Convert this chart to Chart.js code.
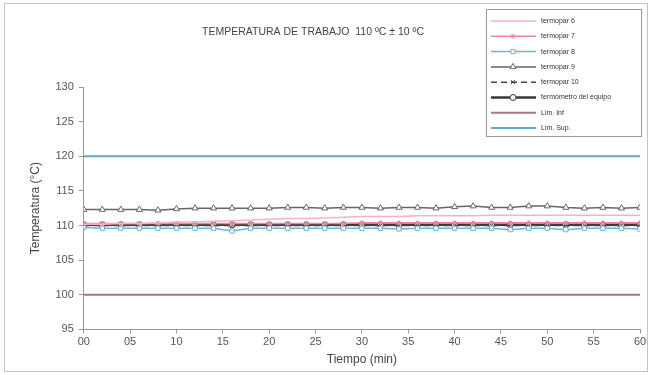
<!DOCTYPE html>
<html>
<head>
<meta charset="utf-8">
<script src="https://cdn.jsdelivr.net/npm/chart.js@4/dist/chart.umd.min.js"></script>
<style>
  html, body { margin: 0; padding: 0; background: #fff; }
  #wrap { width: 652px; height: 375px; position: relative; }
</style>
</head>
<body>
<div id="wrap"><canvas id="chart" width="652" height="375"></canvas></div>
<script>
// tiempo (min), una lectura cada 2 minutos
const tiempos = [0, 2, 4, 6, 8, 10, 12, 14, 16, 18, 20, 22, 24, 26, 28, 30, 32, 34, 36, 38, 40, 42, 44, 46, 48, 50, 52, 54, 56, 58, 60];

const termopar6 = [110.2, 110.2, 110.3, 110.3, 110.4, 110.5, 110.5, 110.6, 110.7, 110.8, 110.9, 111.0, 111.0, 111.1, 111.2, 111.3, 111.3, 111.3, 111.4, 111.4, 111.4, 111.4, 111.5, 111.5, 111.5, 111.5, 111.5, 111.5, 111.5, 111.5, 111.5];
const termopar7 = [110.3, 110.3, 110.3, 110.3, 110.3, 110.3, 110.3, 110.3, 110.3, 110.3, 110.3, 110.3, 110.3, 110.3, 110.3, 110.4, 110.4, 110.4, 110.4, 110.4, 110.4, 110.4, 110.4, 110.4, 110.4, 110.4, 110.4, 110.4, 110.4, 110.4, 110.4];
const termopar8 = [109.7, 109.6, 109.6, 109.6, 109.6, 109.6, 109.6, 109.6, 109.2, 109.6, 109.6, 109.6, 109.6, 109.6, 109.6, 109.6, 109.6, 109.5, 109.6, 109.6, 109.6, 109.6, 109.6, 109.4, 109.6, 109.6, 109.4, 109.6, 109.6, 109.6, 109.5];
const termopar9 = [112.3, 112.3, 112.3, 112.3, 112.2, 112.4, 112.5, 112.5, 112.5, 112.5, 112.5, 112.6, 112.6, 112.5, 112.6, 112.6, 112.5, 112.6, 112.6, 112.5, 112.7, 112.8, 112.6, 112.6, 112.8, 112.8, 112.6, 112.5, 112.6, 112.5, 112.6];
const termopar10 = [110.0, 110.0, 110.0, 110.0, 110.0, 110.0, 110.0, 110.0, 110.0, 110.0, 110.0, 110.0, 110.0, 110.0, 110.0, 110.0, 110.0, 110.0, 110.0, 110.0, 110.0, 110.0, 110.0, 110.0, 110.0, 110.0, 110.0, 110.0, 110.0, 110.0, 110.0];
const termometro = [110.1, 110.1, 110.1, 110.1, 110.1, 110.1, 110.1, 110.1, 110.1, 110.1, 110.1, 110.1, 110.1, 110.1, 110.1, 110.1, 110.1, 110.1, 110.1, 110.1, 110.1, 110.1, 110.1, 110.1, 110.1, 110.1, 110.1, 110.1, 110.1, 110.1, 110.1];
const limInf = [100, 100];
const limSup = [120, 120];
const limTiempos = [0, 60];

const yTicks = [95, 100, 105, 110, 115, 120, 125, 130];
const titulo = 'TEMPERATURA DE TRABAJO  110 ºC ± 10 ºC';

function puntos(xs, ys) {
    return xs.map((x, i) => ({ x: x, y: ys[i] }));
}

const FUENTE = "'Liberation Sans', Arial, sans-serif";

// leyenda y titulo dibujados encima del grafico, como en el original
const extras = {
    id: 'extras',
    afterDraw(chart) {
        const ctx = chart.ctx;
        ctx.save();
        // marco exterior
        ctx.strokeStyle = '#c4c4c4';
        ctx.lineWidth = 1;
        ctx.strokeRect(4.5, 3.5, 643, 368);

        // titulo
        ctx.fillStyle = '#444';
        ctx.font = '10.5px ' + FUENTE;
        ctx.textAlign = 'center';
        ctx.textBaseline = 'middle';
        ctx.fillText(titulo, 313, 32);

        // leyenda
        const bx = 486, by = 9, bw = 155, bh = 127;
        ctx.fillStyle = '#fff';
        ctx.fillRect(bx, by, bw, bh);
        ctx.strokeStyle = '#999';
        ctx.strokeRect(bx + 0.5, by + 0.5, bw, bh);
        ctx.textAlign = 'left';
        ctx.font = '7px ' + FUENTE;
        chart.data.datasets.forEach((ds, i) => {
            const y = 21 + i * 15.3;
            ctx.save();
            ctx.strokeStyle = ds.borderColor;
            ctx.lineWidth = ds.borderWidth;
            ctx.setLineDash(ds.borderDash || []);
            ctx.beginPath();
            ctx.moveTo(491, y);
            ctx.lineTo(536, y);
            ctx.stroke();
            ctx.restore();
            if (ds.pointRadius > 0) {
                ctx.save();
                ctx.fillStyle = ds.pointBackgroundColor;
                ctx.strokeStyle = ds.pointBorderColor;
                ctx.lineWidth = ds.pointBorderWidth;
                Chart.helpers.drawPoint(ctx, {
                    pointStyle: ds.pointStyle,
                    radius: ds.pointRadius,
                    borderWidth: ds.pointBorderWidth,
                    rotation: 0
                }, 513, y);
                ctx.restore();
            }
            ctx.fillStyle = '#333';
            ctx.fillText(ds.label, 541, y);
        });
        ctx.restore();
    }
};

function serie(label, xs, ys, color, extra) {
    return Object.assign({
        label: label,
        data: puntos(xs, ys),
        borderColor: color,
        backgroundColor: color,
        borderWidth: 1.5,
        pointRadius: 0,
        pointStyle: 'circle',
        pointBackgroundColor: '#fff',
        pointBorderColor: color,
        pointBorderWidth: 1,
        tension: 0
    }, extra || {});
}

const ctx = document.getElementById('chart').getContext('2d');
new Chart(ctx, {
    type: 'line',
    data: {
        datasets: [
            serie('termopar 6', tiempos, termopar6, '#f2b3c4', { borderWidth: 1.5 }),
            serie('termopar 7', tiempos, termopar7, '#e8869c', { pointRadius: 2.5, pointStyle: 'star' }),
            serie('termopar 8', tiempos, termopar8, '#6fb3d6', { pointRadius: 3, pointStyle: 'rect' }),
            serie('termopar 9', tiempos, termopar9, '#666', { pointRadius: 3.5, pointStyle: 'triangle' }),
            serie('termopar 10', tiempos, termopar10, '#444', { borderDash: [6, 4], pointRadius: 3, pointStyle: 'crossRot' }),
            serie('termómetro del equipo', tiempos, termometro, '#3a3a3a', { borderWidth: 2.5, pointRadius: 3, pointStyle: 'circle' }),
            serie('Lim. Inf', limTiempos, limInf, '#a8758a', { borderWidth: 2 }),
            serie('Lim. Sup.', limTiempos, limSup, '#5ea4cc', { borderWidth: 2 })
        ]
    },
    options: {
        responsive: false,
        animation: false,
        layout: { padding: { left: 28, right: 12, top: 87, bottom: 8 } },
        plugins: {
            legend: { display: false },
            title: { display: false },
            tooltip: { enabled: false }
        },
        scales: {
            x: {
                type: 'linear',
                min: 0,
                max: 60,
                grid: { display: true, drawOnChartArea: false, drawTicks: true, tickLength: 4, color: '#999' },
                border: { display: true, color: '#999' },
                ticks: {
                    stepSize: 5,
                    color: '#555',
                    font: { family: FUENTE, size: 11 },
                    padding: 2,
                    callback: v => String(v).padStart(2, '0')
                },
                title: {
                    display: true,
                    text: 'Tiempo (min)',
                    color: '#444',
                    font: { family: FUENTE, size: 12 },
                    padding: { top: 2, bottom: 0 }
                }
            },
            y: {
                min: 95,
                max: 130,
                afterBuildTicks: axis => { axis.ticks = yTicks.map(v => ({ value: v })); },
                grid: { display: true, drawOnChartArea: false, drawTicks: true, tickLength: 5, color: '#999' },
                border: { display: true, color: '#999' },
                ticks: {
                    color: '#555',
                    font: { family: FUENTE, size: 11 },
                    padding: 5
                },
                title: {
                    display: true,
                    text: 'Temperatura (°C)',
                    color: '#444',
                    font: { family: FUENTE, size: 12 },
                    padding: { top: 0, bottom: 8 }
                }
            }
        }
    },
    plugins: [extras]
});
</script>
</body>
</html>
